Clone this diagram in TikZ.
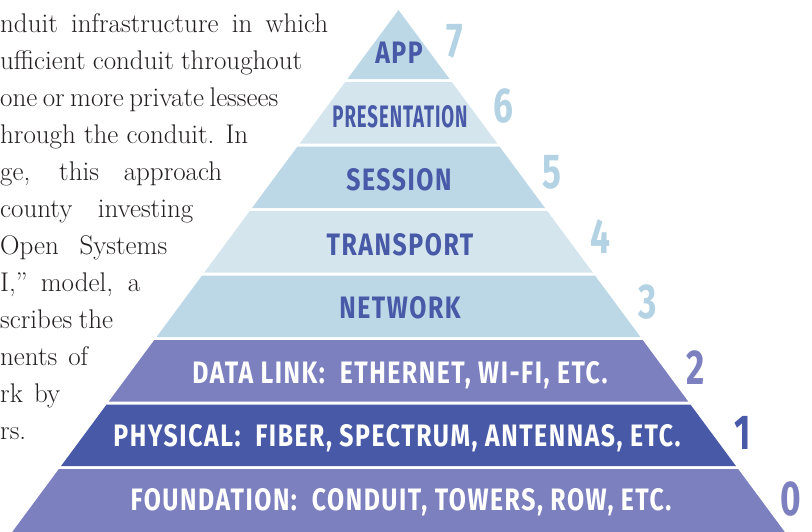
\documentclass[tikz,border=0pt]{standalone}
\usepackage{fontspec}
\usepackage{xcolor}
\usepackage{tikz}
\usetikzlibrary{calc}
\newfontfamily\capsfont[FakeStretch=0.80,LetterSpace=5.0]{Fira Sans}
\newfontfamily\narrowcaps[FakeStretch=0.60,LetterSpace=3.0]{Fira Sans}
\newfontfamily\digitfont[FakeStretch=0.72]{Fira Sans}
\definecolor{paleblue}{HTML}{D4E5EE}
\definecolor{skyblue}{HTML}{BCD8E6}
\definecolor{skynum}{HTML}{B3D2E3}
\definecolor{lilac}{HTML}{7C80BF}
\definecolor{indigo}{HTML}{4859A7}
\definecolor{ink}{HTML}{231F20}
\tikzset{
  layerLbl/.style={font=\capsfont\bfseries\fontsize{31}{31}\selectfont, text=indigo, inner sep=0pt, anchor=base},
  narrowLbl/.style={layerLbl, font=\narrowcaps\bfseries\fontsize{31}{31}\selectfont},
  darkLbl/.style={layerLbl, text=white},
  numLbl/.style={font=\digitfont\bfseries\fontsize{49}{49}\selectfont, inner sep=0pt, anchor=base},
  bodyTxt/.style={font=\fontsize{27}{37}\selectfont, text=ink, inner sep=0pt, anchor=base west},
}
% one band of the pyramid between two heights (apex at 398.5,10)
\newcommand{\PyrBand}[3]{%
  \fill[#3] ({398.5-0.74*(#1-10)},#1) -- ({398.5+0.74*(#1-10)},#1)
    -- ({398.5+0.74*(#2-10)},#2) -- ({398.5-0.74*(#2-10)},#2) -- cycle;
}

\begin{document}
\begin{tikzpicture}[x=1pt, y=-1pt]
  \useasboundingbox (0,0) rectangle (812,531);
  \clip (0,0) rectangle (812,531);

  % running text, cut by the page edge
  \foreach \w/\yb/\t [count=\i] in {
      328/32/{nduit infrastructure in which},
      302/69/{ufficient conduit throughout},
      277/106/{one or more private lessees},
      248/143/{hrough the conduit. In},
      222/180/{ge, this approach},
      193/217/{county investing},
      167/254/{Open Systems},
      140/291/{I,'' model, a},
      113/328/{scribes the},
      88/365/{nents of},
      60/402/{rk by}}
    \node[bodyTxt] (txt-\i) at (0,\yb) {\makebox[\w pt][s]{\t}};
  \node[bodyTxt] (txt-12) at (0,439) {rs.};

  % layers
  \PyrBand{10}{79}{skyblue}
  \PyrBand{82}{143.5}{paleblue}
  \PyrBand{146.5}{208}{skyblue}
  \PyrBand{211}{272.5}{paleblue}
  \PyrBand{275.5}{337}{skyblue}
  \PyrBand{340}{401.5}{lilac}
  \PyrBand{404.5}{466}{indigo}
  \PyrBand{469}{535}{lilac}

  \node[layerLbl]  (app)   at (399,63)  {APP};
  \node[narrowLbl] (pres)  at (400,127) {PRESENTATION};
  \node[layerLbl]  (sess)  at (399,190) {SESSION};
  \node[layerLbl]  (trans) at (400,255) {TRANSPORT};
  \node[layerLbl]  (net)   at (400,318) {NETWORK};
  \node[darkLbl]   (link)  at (400,383) {DATA LINK:\ \ ETHERNET, WI-FI, ETC.};
  \node[darkLbl]   (phys)  at (397,446) {PHYSICAL:\ \ FIBER, SPECTRUM, ANTENNAS, ETC.};
  \node[darkLbl]   (found) at (401,510) {FOUNDATION:\ \ CONDUIT, TOWERS, ROW, ETC.};

  % layer numbers
  \node[numLbl, text=skynum] (n7) at (455,57)   {7};
  \node[numLbl, text=skynum] (n6) at (503.5,122) {6};
  \node[numLbl, text=skynum] (n5) at (552,188)  {5};
  \node[numLbl, text=skynum] (n4) at (600,253)  {4};
  \node[numLbl, text=skynum] (n3) at (648,318)  {3};
  \node[numLbl, text=lilac]  (n2) at (695.5,384) {2};
  \node[numLbl, text=indigo] (n1) at (743,449)  {1};
  \node[numLbl, text=lilac]  (n0) at (791,515)  {0};
\end{tikzpicture}
\end{document}
